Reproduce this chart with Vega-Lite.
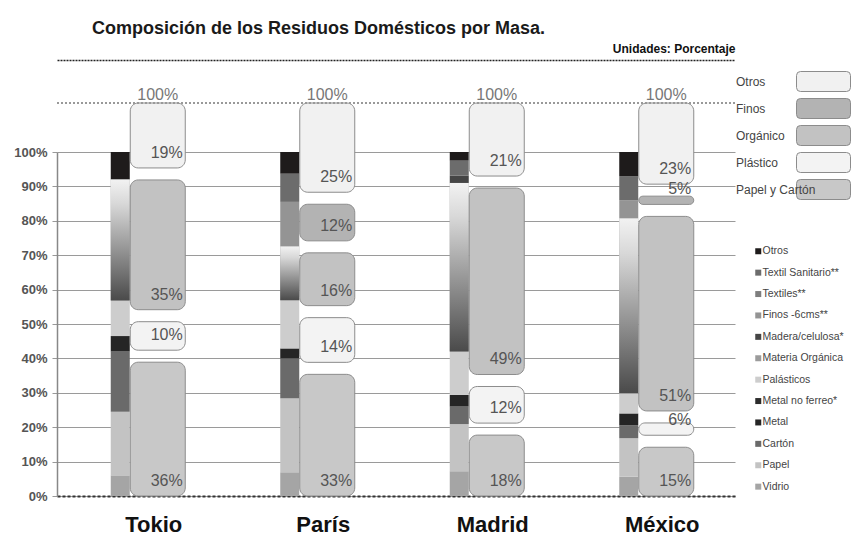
{
  "$schema": "https://vega.github.io/schema/vega-lite/v6.json",
  "autosize": "none",
  "width": 678,
  "height": 344,
  "padding": {"left": 57, "top": 152, "right": 118, "bottom": 43},
  "background": "white",
  "title": {
    "text": "Composición de los Residuos Domésticos por Masa.",
    "anchor": "start",
    "frame": "group",
    "dx": 35,
    "offset": 4,
    "fontSize": 18,
    "fontWeight": "bold",
    "color": "#1a1a1a",
    "font": "Liberation Sans"
  },
  "datasets": {
    "detalle": [
      {"ciudad": "Tokio", "categoria": "Vidrio", "valor": 6},
      {"ciudad": "Tokio", "categoria": "Papel", "valor": 18.5},
      {"ciudad": "Tokio", "categoria": "Cartón", "valor": 17.5},
      {"ciudad": "Tokio", "categoria": "Metal", "valor": 4.5},
      {"ciudad": "Tokio", "categoria": "Palásticos", "valor": 10.3},
      {"ciudad": "Tokio", "categoria": "Materia Orgánica", "valor": 35.2},
      {"ciudad": "Tokio", "categoria": "Otros", "valor": 8},
      {"ciudad": "París", "categoria": "Vidrio", "valor": 6.9},
      {"ciudad": "París", "categoria": "Papel", "valor": 21.5},
      {"ciudad": "París", "categoria": "Cartón", "valor": 11.6},
      {"ciudad": "París", "categoria": "Metal", "valor": 2.9},
      {"ciudad": "París", "categoria": "Palásticos", "valor": 14},
      {"ciudad": "París", "categoria": "Materia Orgánica", "valor": 15.6},
      {"ciudad": "París", "categoria": "Finos -6cms**", "valor": 13},
      {"ciudad": "París", "categoria": "Textil Sanitario**", "valor": 8.2},
      {"ciudad": "París", "categoria": "Otros", "valor": 6.3},
      {"ciudad": "Madrid", "categoria": "Vidrio", "valor": 7.2},
      {"ciudad": "Madrid", "categoria": "Papel", "valor": 13.7},
      {"ciudad": "Madrid", "categoria": "Cartón", "valor": 5.1},
      {"ciudad": "Madrid", "categoria": "Metal", "valor": 3.4},
      {"ciudad": "Madrid", "categoria": "Palásticos", "valor": 12.6},
      {"ciudad": "Madrid", "categoria": "Materia Orgánica", "valor": 49},
      {"ciudad": "Madrid", "categoria": "Madera/celulosa*", "valor": 2.1},
      {"ciudad": "Madrid", "categoria": "Textil Sanitario**", "valor": 4.4},
      {"ciudad": "Madrid", "categoria": "Otros", "valor": 2.5},
      {"ciudad": "México", "categoria": "Vidrio", "valor": 5.6},
      {"ciudad": "México", "categoria": "Papel", "valor": 11.2},
      {"ciudad": "México", "categoria": "Cartón", "valor": 3.8},
      {"ciudad": "México", "categoria": "Metal", "valor": 3.4},
      {"ciudad": "México", "categoria": "Palásticos", "valor": 5.9},
      {"ciudad": "México", "categoria": "Materia Orgánica", "valor": 50.8},
      {"ciudad": "México", "categoria": "Finos -6cms**", "valor": 5.3},
      {"ciudad": "México", "categoria": "Textil Sanitario**", "valor": 7},
      {"ciudad": "México", "categoria": "Otros", "valor": 7}
    ],
    "grupos": [
      {"ciudad": "Tokio", "grupo": "Papel y Cartón", "valor": 36},
      {"ciudad": "Tokio", "grupo": "Plástico", "valor": 10},
      {"ciudad": "Tokio", "grupo": "Orgánico", "valor": 35},
      {"ciudad": "Tokio", "grupo": "Otros", "valor": 19},
      {"ciudad": "París", "grupo": "Papel y Cartón", "valor": 33},
      {"ciudad": "París", "grupo": "Plástico", "valor": 14},
      {"ciudad": "París", "grupo": "Orgánico", "valor": 16},
      {"ciudad": "París", "grupo": "Finos", "valor": 12},
      {"ciudad": "París", "grupo": "Otros", "valor": 25},
      {"ciudad": "Madrid", "grupo": "Papel y Cartón", "valor": 18},
      {"ciudad": "Madrid", "grupo": "Plástico", "valor": 12},
      {"ciudad": "Madrid", "grupo": "Orgánico", "valor": 49},
      {"ciudad": "Madrid", "grupo": "Otros", "valor": 21},
      {"ciudad": "México", "grupo": "Papel y Cartón", "valor": 15},
      {"ciudad": "México", "grupo": "Plástico", "valor": 6},
      {"ciudad": "México", "grupo": "Orgánico", "valor": 51},
      {"ciudad": "México", "grupo": "Finos", "valor": 5},
      {"ciudad": "México", "grupo": "Otros", "valor": 23}
    ]
  },
  "resolve": {
    "scale": {"y": "independent"},
    "axis": {"x": "independent", "y": "independent"}
  },
  "layer": [
    {
      "data": {"name": "detalle"},
      "transform": [{"stack": "valor", "groupby": ["ciudad"], "as": ["y0", "y1"]}],
      "mark": {"type": "bar", "width": 19, "xOffset": -21.5},
      "encoding": {
        "x": {
          "field": "ciudad", "type": "nominal",
          "sort": ["Tokio", "París", "Madrid", "México"],
          "scale": {"paddingInner": 0, "paddingOuter": 0},
          "axis": {
            "orient": "bottom", "title": null, "ticks": false,
            "domainDash": [3, 2], "domainColor": "#333", "domainWidth": 2,
            "labelFont": "Liberation Sans", "labelFontSize": 22, "labelFontWeight": "bold",
            "labelColor": "#111", "labelPadding": 18, "labelOffset": 12, "labelAngle": 0
          }
        },
        "y": {
          "field": "y1", "type": "quantitative",
          "scale": {"domain": [0, 100], "nice": false},
          "axis": {
            "title": null, "values": [0, 10, 20, 30, 40, 50, 60, 70, 80, 90, 100],
            "labelExpr": "datum.value + '%'",
            "domainColor": "#888", "domainWidth": 1.5,
            "gridColor": "#9a9a9a", "gridWidth": 1,
            "tickColor": "#999", "tickSize": 5,
            "labelFont": "Liberation Sans", "labelFontSize": 13, "labelFontWeight": "bold",
            "labelColor": "#555", "labelPadding": 5
          }
        },
        "y2": {"field": "y0"},
        "color": {
          "field": "categoria", "type": "nominal",
          "scale": {
            "domain": ["Otros", "Textil Sanitario**", "Textiles**", "Finos -6cms**", "Madera/celulosa*", "Materia Orgánica", "Palásticos", "Metal no ferreo*", "Metal", "Cartón", "Papel", "Vidrio"],
            "range": ["#1e1b1b", "#6c6c6c", "#7e7e7e", "#949494", "#454545", "#9b9b9b", "#cdcdcd", "#2c2c2c", "#252525", "#6a6a6a", "#c3c3c3", "#a5a5a5"]
          },
          "legend": {
            "orient": "none", "legendX": 696, "legendY": 94, "title": null,
            "symbolType": "square", "symbolSize": 36, "symbolStrokeWidth": 0,
            "labelFont": "Liberation Sans", "labelFontSize": 10.5, "labelColor": "#444",
            "labelOffset": -1, "rowPadding": 10.4, "labelLimit": 200
          }
        }
      }
    },
    {
      "data": {"name": "detalle"},
      "transform": [
        {"stack": "valor", "groupby": ["ciudad"], "as": ["y0", "y1"]},
        {"filter": "datum.categoria === 'Materia Orgánica'"}
      ],
      "mark": {
        "type": "bar", "width": 19, "xOffset": -21.5,
        "color": {
          "gradient": "linear", "x1": 0, "y1": 0, "x2": 0, "y2": 1,
          "stops": [
            {"offset": 0, "color": "#f2f2f2"},
            {"offset": 0.2, "color": "#d8d8d8"},
            {"offset": 1, "color": "#4a4a4a"}
          ]
        }
      },
      "encoding": {
        "x": {"field": "ciudad", "type": "nominal", "sort": ["Tokio", "París", "Madrid", "México"], "scale": {"paddingInner": 0, "paddingOuter": 0}, "axis": null},
        "y": {"field": "y1", "type": "quantitative", "scale": {"domain": [0, 100], "nice": false}, "axis": null},
        "y2": {"field": "y0"}
      }
    },
    {
      "data": {"name": "grupos"},
      "transform": [{"stack": "valor", "groupby": ["ciudad"], "as": ["y0", "y1"]}],
      "mark": {"type": "bar", "width": 55, "xOffset": 16, "y2Offset": -12, "cornerRadius": 8, "stroke": "#8c8c8c", "strokeWidth": 1},
      "encoding": {
        "x": {
          "field": "ciudad", "type": "nominal", "sort": ["Tokio", "París", "Madrid", "México"],
          "scale": {"paddingInner": 0, "paddingOuter": 0},
          "axis": {
            "orient": "top", "offset": 92, "labels": false, "ticks": false, "grid": false,
            "domainDash": [2, 1], "domainColor": "#222", "domainWidth": 1.5,
            "title": "Unidades: Porcentaje", "titleAnchor": "end", "titlePadding": 5,
            "titleFont": "Liberation Sans", "titleFontSize": 12, "titleFontWeight": "bold", "titleColor": "#111"
          }
        },
        "y": {"field": "y1", "type": "quantitative", "scale": {"domain": [2.963, 87.9], "nice": false, "zero": false}, "axis": null},
        "y2": {"field": "y0"},
        "fill": {
          "field": "grupo", "type": "nominal",
          "scale": {
            "domain": ["Otros", "Finos", "Orgánico", "Plástico", "Papel y Cartón"],
            "range": ["#f1f1f1", "#b3b3b3", "#c2c2c2", "#f3f3f3", "#c8c8c8"]
          },
          "legend": {
            "orient": "none", "legendX": 756, "legendY": -81, "title": null,
            "symbolType": "M-2.3,-1 L2.3,-1 Q2.7,-1 2.7,-0.6 L2.7,0.6 Q2.7,1 2.3,1 L-2.3,1 Q-2.7,1 -2.7,0.6 L-2.7,-0.6 Q-2.7,-1 -2.3,-1 Z",
            "symbolSize": 400, "symbolStrokeColor": "#8c8c8c", "symbolStrokeWidth": 1,
            "labelFont": "Liberation Sans", "labelFontSize": 12, "labelColor": "#444",
            "labelAlign": "left", "labelOffset": -98, "rowPadding": 2, "labelLimit": 200
          }
        }
      }
    },
    {
      "data": {"name": "grupos"},
      "transform": [
        {"stack": "valor", "groupby": ["ciudad"], "as": ["y0", "y1"]},
        {"calculate": "datum.valor + '%'", "as": "etiqueta"}
      ],
      "mark": {"type": "text", "align": "right", "baseline": "middle", "xOffset": 41, "dy": -27, "font": "Liberation Sans", "fontSize": 16, "color": "#555"},
      "encoding": {
        "x": {"field": "ciudad", "type": "nominal", "sort": ["Tokio", "París", "Madrid", "México"], "scale": {"paddingInner": 0, "paddingOuter": 0}, "axis": null},
        "y": {"field": "y0", "type": "quantitative", "scale": {"domain": [2.963, 87.9], "nice": false, "zero": false}, "axis": null},
        "text": {"field": "etiqueta", "type": "nominal"}
      }
    },
    {
      "data": {"name": "grupos"},
      "transform": [
        {"aggregate": [{"op": "sum", "field": "valor", "as": "total"}], "groupby": ["ciudad"]},
        {"calculate": "datum.total + '%'", "as": "etiqueta"}
      ],
      "mark": {"type": "text", "align": "center", "baseline": "middle", "xOffset": 16, "dy": -8, "font": "Liberation Sans", "fontSize": 16, "color": "#777"},
      "encoding": {
        "x": {"field": "ciudad", "type": "nominal", "sort": ["Tokio", "París", "Madrid", "México"], "scale": {"paddingInner": 0, "paddingOuter": 0}, "axis": null},
        "y": {"field": "total", "type": "quantitative", "scale": {"domain": [2.963, 87.9], "nice": false, "zero": false}, "axis": null},
        "text": {"field": "etiqueta", "type": "nominal"}
      }
    },
    {
      "data": {"name": "grupos"},
      "mark": {"type": "rule", "color": "#999", "strokeWidth": 1.5, "strokeDash": [2, 2]},
      "encoding": {
        "y": {"datum": 100, "type": "quantitative", "scale": {"domain": [2.963, 87.9], "nice": false, "zero": false}, "axis": null}
      }
    }
  ],
  "config": {
    "view": {"stroke": null},
    "font": "Liberation Sans"
  }
}
